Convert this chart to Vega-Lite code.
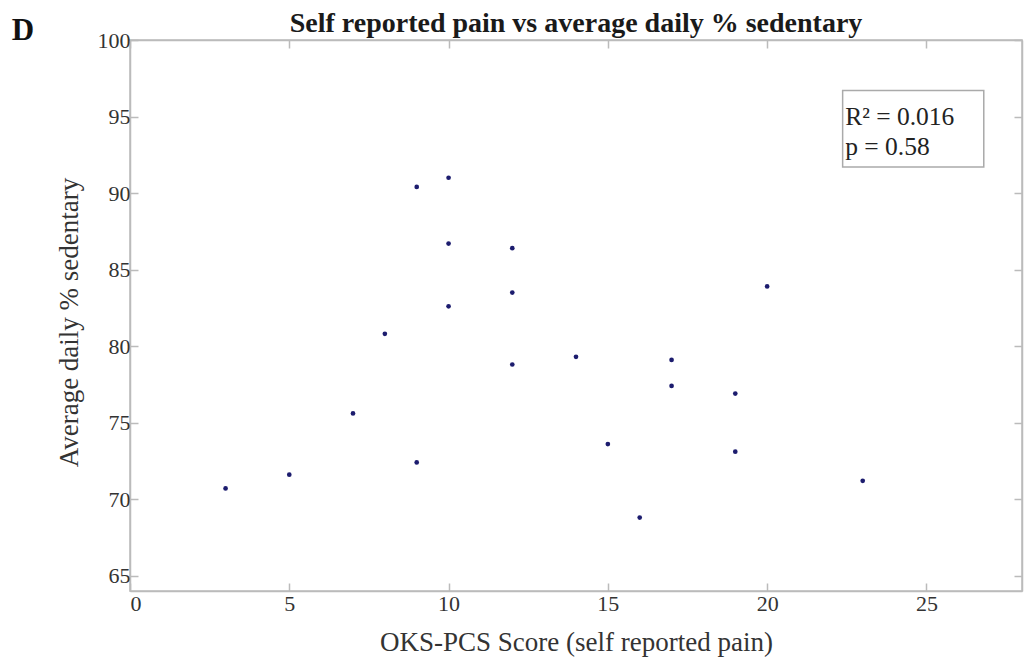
{
  "$schema": "https://vega.github.io/schema/vega-lite/v6.json",
  "autosize": "none",
  "width": 892,
  "height": 551,
  "padding": {"left": 130, "top": 40, "right": 2, "bottom": 71},
  "background": "white",
  "title": {
    "text": "Self reported pain vs average daily % sedentary",
    "font": "Liberation Serif",
    "fontSize": 28,
    "fontWeight": "bold",
    "color": "#1a1a1a",
    "anchor": "middle",
    "offset": -23
  },
  "config": {
    "view": {"stroke": "#bbbbbb", "strokeWidth": 1.5},
    "axis": {
      "grid": false,
      "domainColor": "#bbbbbb",
      "domainWidth": 1.5,
      "tickColor": "#bbbbbb",
      "tickWidth": 1.5,
      "tickSize": -8,
      "labelFont": "Liberation Serif",
      "labelFontSize": 22,
      "labelColor": "#333333",
      "titleFont": "Liberation Serif",
      "titleFontSize": 27,
      "titleFontWeight": "normal",
      "titleColor": "#333333"
    }
  },
  "datasets": {
    "pts": [
      {"score": 3, "sedentary": 70.7},
      {"score": 5, "sedentary": 71.6},
      {"score": 7, "sedentary": 75.6},
      {"score": 8, "sedentary": 80.8},
      {"score": 9, "sedentary": 72.4},
      {"score": 9, "sedentary": 90.4},
      {"score": 10, "sedentary": 91.0},
      {"score": 10, "sedentary": 86.7},
      {"score": 10, "sedentary": 82.6},
      {"score": 12, "sedentary": 86.4},
      {"score": 12, "sedentary": 83.5},
      {"score": 12, "sedentary": 78.8},
      {"score": 14, "sedentary": 79.3},
      {"score": 15, "sedentary": 73.6},
      {"score": 16, "sedentary": 68.8},
      {"score": 17, "sedentary": 79.1},
      {"score": 17, "sedentary": 77.4},
      {"score": 19, "sedentary": 76.9},
      {"score": 19, "sedentary": 73.1},
      {"score": 20, "sedentary": 83.9},
      {"score": 23, "sedentary": 71.2}
    ],
    "box": [{"x1": 22.37, "x2": 26.8, "y1": 96.7, "y2": 91.7}],
    "notes": [
      {"x": 22.45, "y": 94.95, "label": "R² = 0.016"},
      {"x": 22.45, "y": 93.0, "label": "p = 0.58"}
    ],
    "panel": [{"x": -3.36, "y": 100.6, "label": "D"}]
  },
  "resolve": {"axis": {"x": "independent", "y": "independent"}},
  "layer": [
    {
      "data": {"name": "pts"},
      "mark": {"type": "point", "filled": true, "size": 22, "color": "#1c1c6e", "opacity": 1},
      "encoding": {
        "x": {"field": "score", "type": "quantitative",
              "scale": {"domain": [0, 28], "nice": false},
              "axis": {"values": [0, 5, 10, 15, 20, 25], "title": "OKS-PCS Score (self reported pain)", "labelPadding": 10, "titlePadding": 15}},
        "y": {"field": "sedentary", "type": "quantitative",
              "scale": {"domain": [64, 100], "nice": false, "zero": false},
              "axis": {"values": [65, 70, 75, 80, 85, 90, 95, 100], "title": "Average daily % sedentary", "labelPadding": 8, "titlePadding": 14, "titleY": 282}}
      }
    },
    {
      "data": {"name": "pts"},
      "mark": {"type": "point", "opacity": 0},
      "encoding": {
        "x": {"field": "score", "type": "quantitative",
              "axis": {"orient": "top", "values": [0, 5, 10, 15, 20, 25], "labels": false, "title": null}},
        "y": {"field": "sedentary", "type": "quantitative",
              "axis": {"orient": "right", "values": [65, 70, 75, 80, 85, 90, 95, 100], "labels": false, "title": null}}
      }
    },
    {
      "data": {"name": "box"},
      "mark": {"type": "rect", "fill": "white", "stroke": "#aaaaaa", "strokeWidth": 1.5},
      "encoding": {
        "x": {"field": "x1", "type": "quantitative", "axis": null},
        "x2": {"field": "x2"},
        "y": {"field": "y1", "type": "quantitative", "axis": null},
        "y2": {"field": "y2"}
      }
    },
    {
      "data": {"name": "notes"},
      "mark": {"type": "text", "align": "left", "baseline": "middle", "font": "Liberation Serif", "fontSize": 25.5, "color": "#222222"},
      "encoding": {
        "x": {"field": "x", "type": "quantitative", "axis": null},
        "y": {"field": "y", "type": "quantitative", "axis": null},
        "text": {"field": "label"}
      }
    },
    {
      "data": {"name": "panel"},
      "mark": {"type": "text", "align": "center", "baseline": "middle", "font": "Liberation Serif", "fontSize": 31, "fontWeight": "bold", "color": "#111111", "clip": false},
      "encoding": {
        "x": {"field": "x", "type": "quantitative", "axis": null},
        "y": {"field": "y", "type": "quantitative", "axis": null},
        "text": {"field": "label"}
      }
    }
  ]
}
